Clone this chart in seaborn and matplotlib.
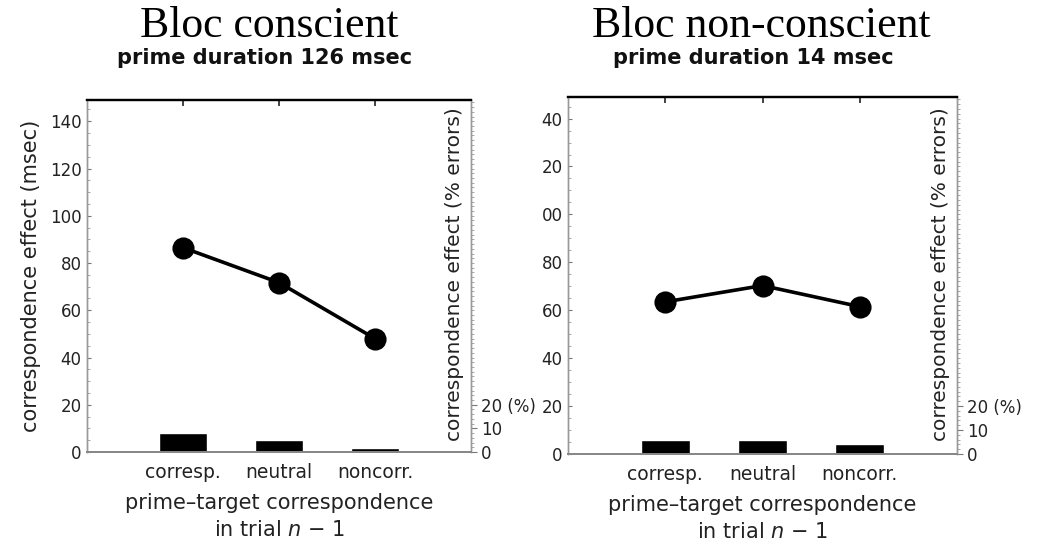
import matplotlib
matplotlib.use("Agg")
import matplotlib.pyplot as plt
from matplotlib.ticker import MultipleLocator
import seaborn as sns

# data
categories = ["corresp.", "neutral", "noncorr."]
rt_conscious = [86.5, 71.7, 48.0]       # correspondence effect (msec)
err_conscious = [8.1, 5.1, 1.5]         # correspondence effect (% errors)
rt_unconscious = [63.5, 70.3, 61.5]
err_unconscious = [6.0, 6.0, 4.2]

yticks = [0, 20, 40, 60, 80, 100, 120, 140]
left_labels = ["0", "20", "40", "60", "80", "100", "120", "140"]
right_panel_labels = ["0", "20", "40", "60", "80", "00", "20", "40"]
err_ticks = [0, 10, 20]
err_labels = ["0", "10", "20 (%)"]

titles = ["Bloc conscient", "Bloc non-conscient"]
subtitles = ["prime duration 126 msec", "prime duration 14 msec"]

sns.set_style("white")
plt.rcParams["font.family"] = ["DejaVu Sans"]

fig = plt.figure(figsize=(10.39, 5.41), dpi=100)
W, H = 1039, 541


def panel(px_left, px_right, px_top, px_bottom, rt, err, ylabels, show_ylabel,
          title, subtitle, title_x, sub_x):
    ax = fig.add_axes([px_left / W, 1 - px_bottom / H,
                       (px_right - px_left) / W, (px_bottom - px_top) / H])
    ax2 = ax.twinx()

    sns.barplot(x=categories, y=err, ax=ax2, color="black", width=0.5,
                saturation=1, errorbar=None)
    sns.pointplot(x=categories, y=rt, ax=ax, color="black", errorbar=None,
                  markersize=14, linewidth=2.6)
    ax.set_zorder(ax2.get_zorder() + 1)
    ax.patch.set_visible(False)

    ax.set_xlim(-1, 3)
    ax.set_ylim(0, 149)
    ax2.set_ylim(0, 149)

    ax.set_xticks(range(len(categories)))
    ax.set_xticklabels(categories, fontsize=13.5, color="#222")
    ax.tick_params(axis="x", bottom=False, top=True, labelbottom=True,
                   labeltop=False, direction="in", length=4, width=1.2,
                   color="#222", pad=8)

    ax.set_yticks(yticks)
    ax.set_yticklabels(ylabels, fontsize=12, color="#222")
    ax.yaxis.set_minor_locator(MultipleLocator(5))
    ax.tick_params(axis="y", which="major", direction="in", length=3,
                   color="#777", pad=4)
    ax.tick_params(axis="y", which="minor", direction="in", length=2,
                   color="#999")

    ax2.set_yticks(err_ticks)
    ax2.set_yticklabels(err_labels, fontsize=12, color="#222")
    ax2.yaxis.set_minor_locator(MultipleLocator(2))
    ax2.tick_params(axis="y", which="major", direction="out", length=4,
                    color="#777", pad=3)
    ax2.tick_params(axis="y", which="minor", direction="out", length=2,
                    color="#999")
    ax2.set_ylabel("")

    for a in (ax, ax2):
        a.spines["top"].set_color("black")
        a.spines["top"].set_linewidth(1.6)
        a.spines["bottom"].set_color("#888")
        a.spines["bottom"].set_linewidth(1.4)
        a.spines["left"].set_color("#999")
        a.spines["left"].set_linewidth(1.0)
        a.spines["right"].set_color("#999")
        a.spines["right"].set_linewidth(1.0)

    ax.set_xlabel("prime\u2013target correspondence\nin trial $n$ \u2212 1",
                  fontsize=15, color="#222", labelpad=8, linespacing=1.4)
    if show_ylabel:
        ax.set_ylabel("correspondence effect (msec)", fontsize=15,
                      color="#222", labelpad=6)
    else:
        ax.set_ylabel("")
    ax.text(0.957, 0.505, "correspondence effect (% errors)",
            transform=ax.transAxes, rotation=90, ha="center", va="center",
            fontsize=14.5, color="#222")

    fig.text(title_x / W, 1 - 37 / H, title, family="Liberation Serif",
             fontsize=31.5, ha="center", va="baseline", color="black")
    fig.text(sub_x / W, 1 - 64 / H, subtitle, fontsize=15,
             fontweight="bold", ha="center", va="baseline", color="#111")


panel(87, 471, 100, 452, rt_conscious, err_conscious, left_labels, True,
      titles[0], subtitles[0], 269, 265)
panel(568, 957, 97, 454, rt_unconscious, err_unconscious, right_panel_labels,
      False, titles[1], subtitles[1], 761, 753)

fig.savefig("out.png", dpi=100)
